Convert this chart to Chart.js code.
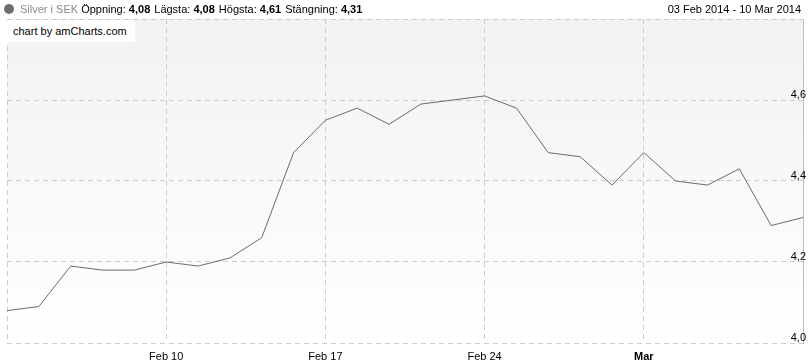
<!DOCTYPE html>
<html>
<head>
<meta charset="utf-8">
<script src="https://cdn.jsdelivr.net/npm/chart.js@4/dist/chart.umd.min.js"></script>
<style>
  html, body { margin: 0; padding: 0; background: #fff; }
  #wrap { position: relative; width: 810px; height: 363px; font-family: "Liberation Sans", Arial, sans-serif; font-size: 11px; color: #000; }
  #graf { position: absolute; left: 0; top: 0; }
  .topo { position: absolute; top: 3px; white-space: pre; }
  #legenda { left: 4px; }
  #legenda .bola { display: inline-block; width: 10px; height: 10px; border-radius: 5px; background: #6e6e6e; vertical-align: -1px; margin-right: 6px; }
  #legenda .serie { color: #8a8a8a; }
  #legenda .item { margin-right: 4px; }
  #periodo { right: 9px; }
  #marca { position: absolute; left: 5px; top: 20px; height: 22px; background: #fff; font-size: 11px; line-height: 22px; padding: 0 8px; white-space: nowrap; }
</style>
</head>
<body>
<div id="wrap">
  <canvas id="graf" width="810" height="363"></canvas>
  <div class="topo" id="legenda"></div>
  <div class="topo" id="periodo">03 Feb 2014 - 10 Mar 2014</div>
  <div id="marca">chart by amCharts.com</div>
</div>
<script>
// dias de pregão (03 Feb 2014 - 10 Mar 2014)
const datas = ['Feb 3', 'Feb 4', 'Feb 5', 'Feb 6', 'Feb 7',
  'Feb 10', 'Feb 11', 'Feb 12', 'Feb 13', 'Feb 14',
  'Feb 17', 'Feb 18', 'Feb 19', 'Feb 20', 'Feb 21',
  'Feb 24', 'Feb 25', 'Feb 26', 'Feb 27', 'Feb 28',
  'Mar 3', 'Mar 4', 'Mar 5', 'Mar 6', 'Mar 7', 'Mar 10'];

// Silver i SEK
const precos = [4.08, 4.09, 4.19, 4.18, 4.18,
  4.20, 4.19, 4.21, 4.26, 4.47,
  4.55, 4.58, 4.54, 4.59, 4.60,
  4.61, 4.58, 4.47, 4.46, 4.39,
  4.47, 4.40, 4.39, 4.43, 4.29, 4.31];

// rótulos do eixo X (só nas segundas-feiras)
const datasMarcadas = ['Feb 10', 'Feb 17', 'Feb 24', 'Mar 3'];
const rotulosX = ['Feb 10', 'Feb 17', 'Feb 24', 'Mar'];

// rótulos do eixo Y
const valoresY = [4.0, 4.2, 4.4, 4.6];
const rotulosY = ['4,0', '4,2', '4,4', '4,6'];

// resumo do cabeçalho
const resumoNomes = ['Öppning:', 'Lägsta:', 'Högsta:', 'Stängning:'];
const resumoValores = ['4,08', '4,08', '4,61', '4,31'];

var html = '<span class="bola"></span><span class="serie">Silver i SEK</span> ';
for (let i = 0; i < resumoNomes.length; i++) {
  html += '<span class="item">' + resumoNomes[i] + ' <b>' + resumoValores[i] + '</b></span>';
}
legenda.innerHTML = html;

const corGrade = '#cccccc';

// fundo em degradê da área do gráfico
const fundo = {
  id: 'fundo',
  beforeDraw(chart) {
    const { ctx, chartArea: a } = chart;
    const g = ctx.createLinearGradient(0, a.top, 0, a.bottom);
    g.addColorStop(0, '#f2f2f2');
    g.addColorStop(1, '#ffffff');
    ctx.save();
    ctx.fillStyle = g;
    ctx.fillRect(a.left, a.top, a.right - a.left, a.bottom - a.top);
    ctx.restore();
  }
};

function indiceMarcado(i) {
  return datasMarcadas.indexOf(datas[i]);
}

new Chart(document.getElementById('graf'), {
  type: 'line',
  data: {
    labels: datas,
    datasets: [{
      label: 'Silver i SEK',
      data: precos,
      borderColor: '#6b6b6b',
      borderWidth: 1,
      pointRadius: 0,
      tension: 0,
      fill: false
    }]
  },
  options: {
    responsive: false,
    animation: false,
    events: [],
    layout: { padding: { left: 4, right: 6, top: 19, bottom: 0 } },
    plugins: { legend: { display: false }, tooltip: { enabled: false } },
    scales: {
      x: {
        type: 'category',
        offset: false,
        afterFit: (s) => { s.height = 20; },
        border: { display: false, dash: [5, 4] },
        grid: {
          drawTicks: false,
          color: (ctx) => (ctx.index === 0 || indiceMarcado(ctx.index) >= 0) ? corGrade : 'rgba(0,0,0,0)'
        },
        ticks: {
          autoSkip: false,
          maxRotation: 0,
          padding: 7,
          color: '#000',
          font: (ctx) => ({
            family: '"Liberation Sans", Arial, sans-serif',
            size: 11,
            weight: (ctx.tick && ctx.tick.label === 'Mar') ? 'bold' : 'normal'
          }),
          callback: function (v, i) {
            const k = indiceMarcado(i);
            return k >= 0 ? rotulosX[k] : '';
          }
        }
      },
      y: {
        position: 'right',
        min: 4.0,
        max: 4.8,
        afterFit: (s) => { s.width = 0; },
        border: { display: true, color: '#bdbdbd', width: 1, dash: [5, 4] },
        grid: { drawTicks: false, color: corGrade },
        ticks: {
          stepSize: 0.2,
          mirror: true,
          padding: 3,
          labelOffset: -5,
          color: '#000',
          font: { family: '"Liberation Sans", Arial, sans-serif', size: 11 },
          callback: function (v) {
            const k = valoresY.findIndex(y => Math.abs(y - v) < 0.001);
            return k >= 0 ? rotulosY[k] : '';
          }
        }
      }
    }
  },
  plugins: [fundo]
});
</script>
</body>
</html>
